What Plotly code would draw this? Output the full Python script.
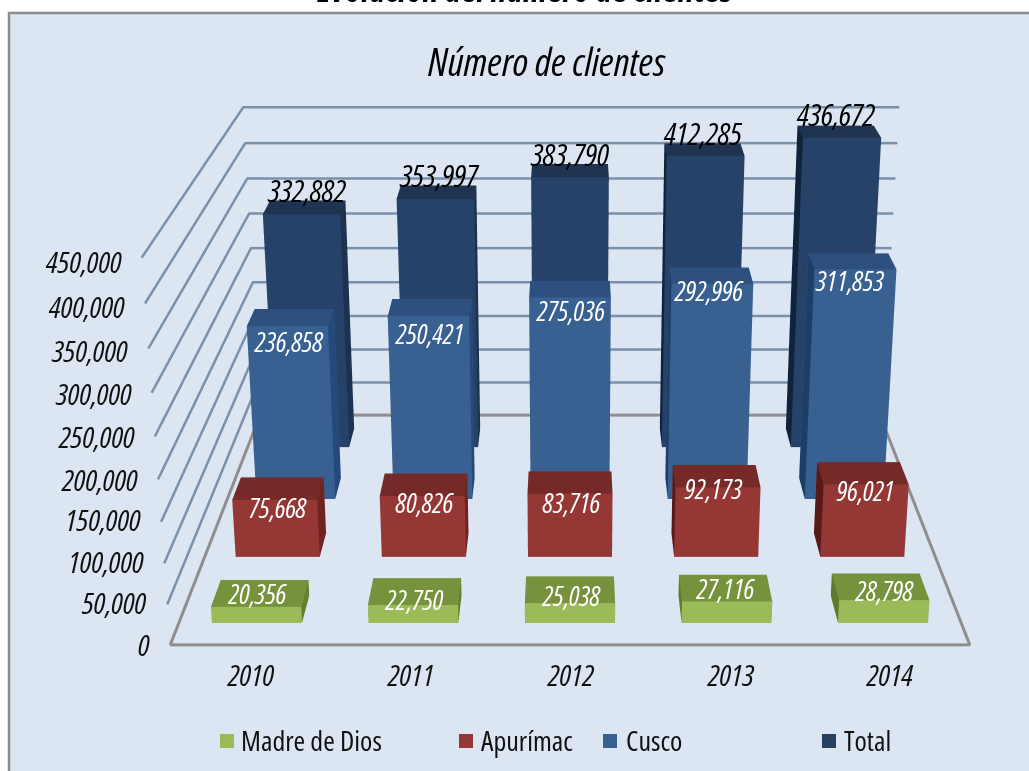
import plotly.graph_objects as go

years = ["2010", "2011", "2012", "2013", "2014"]
series_names = ["Madre de Dios", "Apurímac", "Cusco", "Total"]
madre_de_dios = [20356, 22750, 25038, 27116, 28798]
apurimac = [75668, 80826, 83716, 92173, 96021]
cusco = [236858, 250421, 275036, 292996, 311853]
total = [332882, 353997, 383790, 412285, 436672]
axis_ticks = [0, 50000, 100000, 150000, 200000, 250000, 300000, 350000, 400000, 450000]
chart_title = "Número de clientes"
page_title = "Evolución del número de clientes"

all_series = [madre_de_dios, apurimac, cusco, total]

# --- style / layout ---
W, H = 1029, 771
FONT = "Open Sans"
Z_MAX = 450000
DEPTH_MAX = 0.68
LEAN = 0.24 / Z_MAX          # the wall leans back as the value rises
ROW_FRONT = [0.033, 0.1418, 0.2508, 0.3614]
FLOOR_BACK = 0.4368
BAR_DEPTH = 0.043
BAR_W = 0.575
GRID = "#7B90AB"
FLOOR = "#8E8E8E"
BG = "#DCE6F2"
FACE = {
    0: dict(front="#9BBB59", top="#76923C", right="#66802F", left="#5F7A2E", legend="#9BBB59"),
    1: dict(front="#953735", top="#752A28", right="#6E2422", left="#581A18", legend="#953735"),
    2: dict(front="#386192", top="#2E5080", right="#24497A", left="#1D3E66", legend="#376092"),
    3: dict(front="#264269", top="#1F3450", right="#1B3350", left="#10233B", legend="#254061"),
}
LABEL_STYLE = {0: (27, "white"), 1: (27, "white"), 2: (27, "white"), 3: (31, "black")}
LABEL_SHIFT = {
    0: [(1, -13), (1, -5), (1, -8), (-2, -13), (0, -10)],
    1: [(3, 8), (2, 7), (1, 9), (-4, 1), (-1, 6)],
    2: [(2, 15), (2, 17), (1, 13), (-3, 7), (-5, 11)],
    3: [(6, -24), (4, -24), (0, -23), (-3, -23), (-6, -24)],
}
TICK_SHIFT_Y = [0, -2, -2, -2, 0, 0, 1, 2, 3, 4]
LEGEND_SWATCH_X = [220, 459, 603, 822]
LEGEND_TEXT_X = [239, 479, 624, 842]


def box_mesh(row, values, colors, name):
    xs, ys, zs, i, j, k, fc = [], [], [], [], [], [], []
    y0 = ROW_FRONT[row]
    for c, v in enumerate(values):
        x0, x1 = c + 0.5 - BAR_W / 2, c + 0.5 + BAR_W / 2
        b = len(xs)
        for z in (0, v):
            lean = LEAN * z
            for y in (y0, y0 + BAR_DEPTH):
                for x in (x0, x1):
                    xs.append(x)
                    ys.append(y + lean)
                    zs.append(z)
        quads = [
            ((0, 1, 5, 4), colors["front"]),
            ((4, 5, 7, 6), colors["top"]),
            ((1, 3, 7, 5), colors["right"]),
            ((2, 0, 4, 6), colors["left"]),
            ((3, 2, 6, 7), colors["front"]),
            ((2, 3, 1, 0), colors["front"]),
        ]
        for (p, q, r, s), col in quads:
            i += [b + p, b + p]
            j += [b + q, b + r]
            k += [b + r, b + s]
            fc += [col, col]
    return go.Mesh3d(
        x=xs, y=ys, z=zs, i=i, j=j, k=k, facecolor=fc, name=name, flatshading=True,
        lighting=dict(ambient=1, diffuse=0, specular=0, fresnel=0, roughness=1),
        hoverinfo="skip", showscale=False,
    )


fig = go.Figure()

# wall grid
n = len(years)
gx, gy, gz = [], [], []
for t in axis_ticks[1:]:
    lean = LEAN * t
    gx += [0, 0, n + 0.02, None]
    gy += [lean, FLOOR_BACK + lean, FLOOR_BACK + lean, None]
    gz += [t, t, t, None]
fig.add_trace(go.Scatter3d(x=gx, y=gy, z=gz, mode="lines", line=dict(color=GRID, width=5),
                           hoverinfo="skip", showlegend=False))
# floor outline
fig.add_trace(go.Scatter3d(x=[0, n, n, 0, 0], y=[0, 0, FLOOR_BACK, FLOOR_BACK, 0], z=[0] * 5,
                           mode="lines", line=dict(color=FLOOR, width=6),
                           hoverinfo="skip", showlegend=False))

for row, vals in enumerate(all_series):
    fig.add_trace(box_mesh(row, vals, FACE[row], series_names[row]))

scene_notes = []
for row, vals in enumerate(all_series):
    size, color = LABEL_STYLE[row]
    for c, v in enumerate(vals):
        dx, dy = LABEL_SHIFT[row][c]
        scene_notes.append(dict(
            x=c + 0.5, y=ROW_FRONT[row] + LEAN * v, z=v, text=f"<i>{v:,}</i>", showarrow=False,
            xanchor="center", yanchor="middle", xshift=dx, yshift=-dy,
            font=dict(family=FONT, size=size, color=color)))
for c, y in enumerate(years):
    scene_notes.append(dict(x=c + 0.5, y=0, z=0, text=f"<i>{y}</i>", showarrow=False,
                            xanchor="center", yanchor="middle", xshift=1, yshift=-30,
                            font=dict(family=FONT, size=30, color="#111111")))
for idx, t in enumerate(axis_ticks):
    scene_notes.append(dict(x=0, y=LEAN * t, z=t, text=f"<i>{t:,}</i>", showarrow=False,
                            xanchor="right", align="right", yanchor="middle", xshift=-18,
                            yshift=-TICK_SHIFT_Y[idx],
                            font=dict(family=FONT, size=30, color="#111111")))

hidden = dict(visible=False)
shapes = [dict(type="rect", xref="paper", yref="paper", x0=9 / W, x1=1.01, y0=-0.01, y1=1 - 13 / H,
               fillcolor=BG, line=dict(color="#8C8C8C", width=2.5), layer="below")]
paper_notes = [
    dict(x=525 / W, y=1 - 15 / H, xref="paper", yref="paper", text=f"<b><i>{page_title}</i></b>",
         showarrow=False, xanchor="center", yanchor="bottom",
         font=dict(family=FONT, size=36, color="black")),
    dict(x=546 / W, y=1 - 61 / H, xref="paper", yref="paper", text=f"<i>{chart_title}</i>",
         showarrow=False, xanchor="center", yanchor="middle",
         font=dict(family=FONT, size=39, color="black")),
]
for idx, name in enumerate(series_names):
    shapes.append(dict(type="rect", xref="paper", yref="paper", layer="below",
                       x0=LEGEND_SWATCH_X[idx] / W, x1=(LEGEND_SWATCH_X[idx] + 14) / W,
                       y0=1 - 748 / H, y1=1 - 734 / H, fillcolor=FACE[idx]["legend"],
                       line=dict(width=0)))
    paper_notes.append(dict(x=LEGEND_TEXT_X[idx] / W, y=1 - 740 / H, xref="paper", yref="paper",
                            text=name, showarrow=False, xanchor="left", align="left", yanchor="middle",
                            font=dict(family=FONT, size=28, color="#111111")))

fig.update_layout(
    width=W, height=H, autosize=False, margin=dict(l=0, r=0, t=0, b=0),
    paper_bgcolor="white", showlegend=False, shapes=shapes, annotations=paper_notes,
    scene=dict(
        domain=dict(x=[111 / W, 1], y=[0, 1]),
        xaxis=dict(range=[-0.2, n + 0.2], **hidden),
        yaxis=dict(range=[-0.02, DEPTH_MAX + 0.02], **hidden),
        zaxis=dict(range=[-20000, Z_MAX + 20000], **hidden),
        aspectmode="manual",
        aspectratio=dict(x=1.08, y=DEPTH_MAX + 0.04, z=0.4156 * 490000 / 450000),
        bgcolor="rgba(0,0,0,0)",
        camera=dict(
            eye=dict(x=0, y=-1.0351, z=0.7806),
            center=dict(x=0, y=-0.0293, z=-0.0429),
            up=dict(x=0, y=0, z=1),
            projection=dict(type="perspective"),
        ),
        annotations=scene_notes,
    ),
)

post = """
document.body.style.margin='0';document.body.style.overflow='hidden';
var st=document.createElement('style');st.textContent='svg text{font-stretch:75%;}';document.head.appendChild(st);
"""
fig.write_html("out.html", post_script=post, config=dict(displayModeBar=False))
